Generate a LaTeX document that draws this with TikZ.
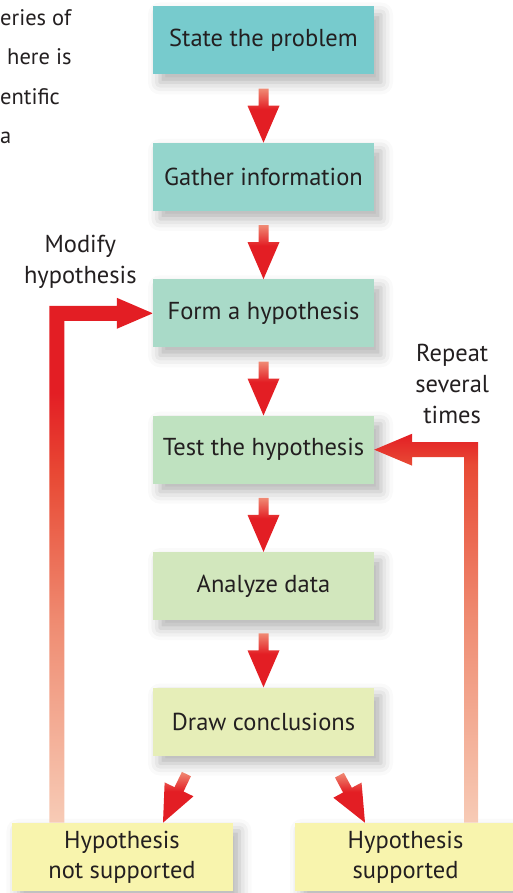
\documentclass[tikz,border=0pt]{standalone}
\usepackage{fontspec}
\setmainfont{PT Sans}
\usetikzlibrary{calc,positioning,shadows.blur}
\definecolor{probfill}{HTML}{77CBCD}
\definecolor{infofill}{HTML}{94D5CC}
\definecolor{hypfill}{HTML}{A9DAC8}
\definecolor{testfill}{HTML}{BFE2C0}
\definecolor{datafill}{HTML}{D2E7BD}
\definecolor{conclfill}{HTML}{E6EEB8}
\definecolor{endfill}{HTML}{F8F4AD}
\definecolor{arrowred}{HTML}{E31E24}
\definecolor{arrowhot}{HTML}{E84A35}
\definecolor{arrowsalmon}{HTML}{EF8C72}
\definecolor{arrowpale}{HTML}{F08A74}
\definecolor{barpale}{HTML}{F7CBB6}
\definecolor{ink}{HTML}{231F20}
\pgfdeclareverticalshading{stubgrad}{100bp}{color(0bp)=(arrowred); color(25bp)=(arrowred); color(56bp)=(arrowred); color(75bp)=(arrowpale); color(100bp)=(arrowpale)}
\pgfdeclareverticalshading{modgrad}{100bp}{color(0bp)=(barpale); color(25bp)=(barpale); color(44bp)=(arrowsalmon); color(58bp)=(arrowhot); color(66bp)=(arrowred); color(100bp)=(arrowred)}
\pgfdeclareverticalshading{repgrad}{100bp}{color(0bp)=(barpale); color(25bp)=(barpale); color(51bp)=(arrowsalmon); color(71bp)=(arrowhot); color(75bp)=(arrowred); color(100bp)=(arrowred)}
\tikzstyle{stepbox} = [rectangle, minimum width=221pt, minimum height=68pt, inner sep=2pt,
                       text=ink, align=center,
                       blur shadow={shadow xshift=7pt, shadow yshift=-8pt, shadow blur radius=12pt, shadow opacity=30}]
\tikzstyle{endbox}  = [stepbox, font=\fontsize{24.5}{30}\selectfont]
\tikzstyle{loopnote} = [text=ink, align=center, font=\fontsize{24.5}{31}\selectfont]
\tikzstyle{stubarrow} = [shading=stubgrad]

\begin{document}
\begin{tikzpicture}[font=\fontsize{24.5}{29}\selectfont]
		\useasboundingbox (0,0) rectangle (513pt,-893pt);

		% cut-off body text
		\node[anchor=north west, inner sep=0pt, text=ink, align=left,
			font=\fontsize{22.5}{39.5}\selectfont] (intro) at (0pt,-9pt)
			{eries of\\\hspace*{7pt}here is\\entific\\a};

		% main chain
		\node[stepbox, fill=probfill] (prob) at (263.5pt,-40.5pt) {State the problem};
		\node[stepbox, fill=infofill, below=68pt of prob] (info) {Gather information};
		\node[stepbox, fill=hypfill, below=68pt of info] (hyp) {Form a hypothesis};
		\node[stepbox, fill=testfill, below=68pt of hyp] (test) {Test the hypothesis};
		\node[stepbox, fill=datafill, below=68pt of test] (data) {Analyze data};
		\node[stepbox, fill=conclfill, below=67pt of data] (concl) {Draw conclusions};
		\node[endbox, fill=endfill, below=67pt of concl, xshift=-141.5pt] (nosup) {Hypothesis\\not supported};
		\node[endbox, fill=endfill, below=67pt of concl, xshift=142pt] (sup) {Hypothesis\\supported};

		% short arrows
		\coordinate (nosupin) at ($(nosup.north)+(41pt,0)$);
		\coordinate (supin) at ($(sup.north)+(-40.5pt,0)$);
		\foreach \tip/\ang in {info.north/0, hyp.north/0, test.north/0, data.north/0, concl.north/0,
				nosupin/-25.7, supin/28.3}
			\shade[stubarrow, shift={(\tip)}, rotate=\ang]
				(0,0) -- (16pt,37pt) -- (5pt,37pt) -- (5pt,54pt) -- (-5pt,54pt)
				-- (-5pt,37pt) -- (-16pt,37pt) -- cycle;

		% feedback loops
		\coordinate (modcorner) at ($(hyp.west)+(-96pt,0)$);
		\coordinate (repcorner) at ($(test.east)+(97pt,0)$);
		\shade[shading=modgrad] ($(modcorner |- nosup.north)+(-7.5pt,0)$)
			|- ($(hyp.west)+(-36pt,7.5pt)$) -- ++(0,8pt) -- (hyp.west)
			-- ++(-36pt,-15.5pt) -- ++(0,8pt) -| ($(modcorner |- nosup.north)+(7.5pt,0)$) -- cycle;
		\shade[shading=repgrad] ($(repcorner |- sup.north)+(7pt,0)$)
			|- ($(test.east)+(38pt,7.5pt)$) -- ++(0,8.5pt) -- (test.east)
			-- ++(38pt,-16pt) -- ++(0,8.5pt) -| ($(repcorner |- sup.north)+(-7pt,0)$) -- cycle;

		\node[loopnote] (modnote) at ($(modcorner)+(23.5pt,51pt)$) {Modify\\hypothesis};
		\node[loopnote] (repnote) at ($(repcorner)+(-19pt,66pt)$) {Repeat\\several\\times};
	\end{tikzpicture}
\end{document}
